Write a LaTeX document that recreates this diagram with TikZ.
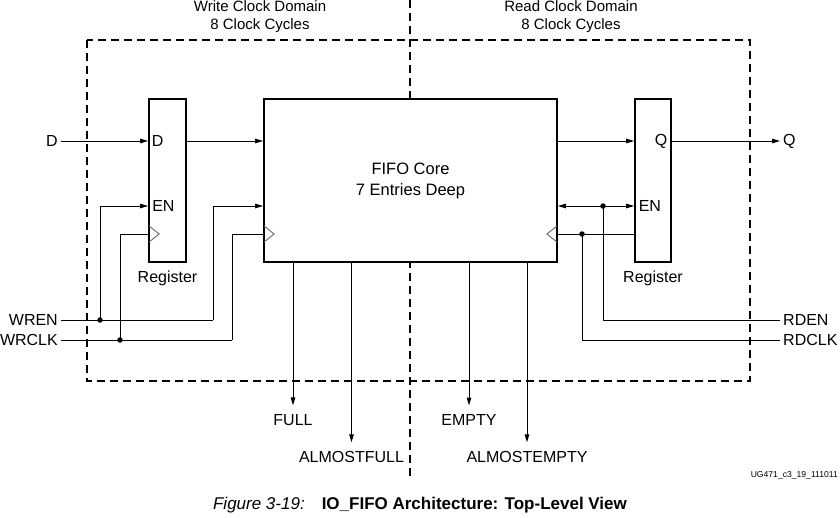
\documentclass[tikz,border=0pt]{standalone}
\usepackage{fontspec}
\setmainfont{Liberation Sans}
\usetikzlibrary{arrows.meta}

\begin{document}
\begin{tikzpicture}[x=1pt,y=-1pt,
  box/.style={draw, fill=white, line width=1.8pt, inner sep=0pt},
  wire/.style={line width=1pt},
  arr/.style={wire, -{Triangle[length=8pt,width=4.5pt]}},
  biarr/.style={wire, {Triangle[length=8pt,width=4.5pt]}-{Triangle[length=8pt,width=4.5pt]}},
  clk/.style={draw=black!60, line width=0.9pt},
  dot/.style={circle, fill, inner sep=0pt, minimum size=5.5pt},
  sig/.style={font=\fontsize{16}{19}\selectfont, inner sep=3pt},
  outsig/.style={sig, outer sep=6pt},
  clkdomain/.style={dash pattern=on 8pt off 5pt, line width=1.8pt}]
 \useasboundingbox (0,0) rectangle (840,517);
 % clock domains
 \draw[clkdomain] (87,40) rectangle (750,381);
 \draw[clkdomain] (410,0) -- (410,476);
 \node (wdom) [align=center, font=\fontsize{15}{17.5}\selectfont] at (260,16.5) {Write Clock Domain\\8 Clock Cycles};
 \node (rdom) [align=center, font=\fontsize{15}{17.5}\selectfont] at (571,16.5) {Read Clock Domain\\8 Clock Cycles};
 % rows
 \coordinate (rowD) at (0,141);
 \coordinate (rowEN) at (0,206);
 \coordinate (rowCK) at (0,234);
 % blocks
 \node (wreg) [box, minimum width=37pt, minimum height=163pt, label={[sig, yshift=-5pt]below:Register}] at (167.5,180.5) {};
 \node (fifo) [box, minimum width=293pt, minimum height=163pt, align=center, font=\fontsize{16.5}{21}\selectfont] at (410.5,180.5) {FIFO Core\\7 Entries Deep};
 \node (rreg) [box, minimum width=36pt, minimum height=163pt, label={[sig, yshift=-5pt]below:Register}] at (653,180.5) {};
 \node (wregD) [sig, anchor=west, inner sep=3.5pt] at (wreg.west |- rowD) {D};
 \node (wregEN) [sig, anchor=west, inner sep=4pt] at (wreg.west |- rowEN) {EN};
 \node (rregQ) [sig, anchor=east, inner sep=4.5pt] at (rreg.east |- rowD) {Q};
 \node (rregEN) [sig, anchor=west, inner sep=4.5pt] at (rreg.west |- rowEN) {EN};
 % clock inputs
 \draw[clk] (wreg.west |- rowCK) ++(1,-8) -- ++(10,8) -- ++(-10,8);
 \draw[clk] (fifo.west |- rowCK) ++(1,-8) -- ++(10,8) -- ++(-10,8);
 \draw[clk] (fifo.east |- rowCK) ++(-1,-8) -- ++(-10,8) -- ++(10,8);
 % write side
 \node (inD) [sig, anchor=east] at (61,141) {D};
 \node (inWREN) [sig, anchor=east] at (61,320) {WREN};
 \node (inWRCLK) [sig, anchor=east] at (61,340) {WRCLK};
 \node (wen) [dot] at (100,320) {};
 \node (wck) [dot] at (120,340) {};
 \coordinate (wenb) at (213,320);
 \coordinate (wckb) at (232,340);
 \draw[arr] (inD.east) -- (wreg.west |- rowD);
 \draw[wire] (inWREN.east) -- (wenb);
 \draw[arr] (wen.center) |- (wreg.west |- rowEN);
 \draw[arr] (wenb) |- (fifo.west |- rowEN);
 \draw[wire] (inWRCLK.east) -- (wckb);
 \draw[wire] (wck.center) |- (wreg.west |- rowCK);
 \draw[wire] (wckb) |- (fifo.west |- rowCK);
 \draw[arr] (wreg.east |- rowD) -- (fifo.west |- rowD);
 % read side
 \node (outQ) [sig, anchor=west] at (780,141) {Q};
 \node (outRDEN) [sig, anchor=west] at (780,320) {RDEN};
 \node (outRDCLK) [sig, anchor=west] at (780,340) {RDCLK};
 \node (ren) [dot] at (603,206) {};
 \node (rck) [dot] at (582,234) {};
 \draw[arr] (fifo.east |- rowD) -- (rreg.west |- rowD);
 \draw[arr] (rreg.east |- rowD) -- (outQ.west);
 \draw[biarr] (fifo.east |- rowEN) -- (rreg.west |- rowEN);
 \draw[wire] (ren.center) |- (outRDEN.west);
 \draw[wire] (fifo.east |- rowCK) -- (rreg.west |- rowCK);
 \draw[wire] (rck.center) |- (outRDCLK.west);
 % flags
 \node (full) [outsig] at (293,420) {FULL};
 \node (afull) [outsig] at (351.5,457) {ALMOSTFULL};
 \node (empty) [outsig] at (469,420) {EMPTY};
 \node (aempty) [outsig] at (527,457) {ALMOSTEMPTY};
 \draw[arr] (fifo.south -| full) -- (full.north);
 \draw[arr] (fifo.south -| afull) -- (afull.north);
 \draw[arr] (fifo.south -| empty) -- (empty.north);
 \draw[arr] (fifo.south -| aempty) -- (aempty.north);
 % caption
 \node (uid) [anchor=east, inner sep=0pt, font=\fontsize{8.6}{10}\selectfont] at (838,475) {UG471\_c3\_19\_111011};
 \node (fig) [font=\fontsize{17}{20}\selectfont] at (420,505) {\textit{Figure 3-19:}\hspace{17pt}\textbf{IO\_FIFO Architecture: Top-Level View}};
\end{tikzpicture}
\end{document}
